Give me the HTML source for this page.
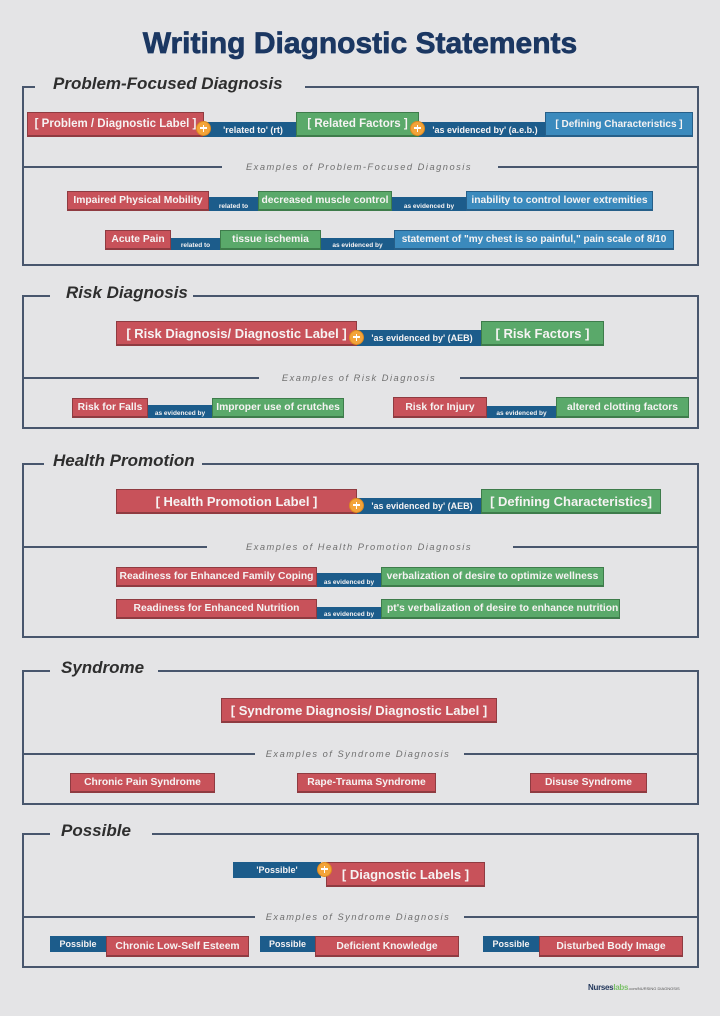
<!DOCTYPE html>
<html>
<head>
<meta charset="utf-8">
<style>
html,body{margin:0;padding:0;}
body{width:720px;height:1016px;background:#e4e4e6;position:relative;overflow:hidden;font-family:"Liberation Sans",Arial,sans-serif;}
.title{position:absolute;left:0;top:26px;width:720px;height:36px;line-height:36px;text-align:center;font-size:30px;font-weight:bold;color:#1b3762;letter-spacing:0px;-webkit-text-stroke:0.7px #1b3762;}
.frame{position:absolute;left:22px;width:677px;box-sizing:border-box;border:2px solid #48566d;border-top:none;}
.ln{position:absolute;height:2px;background:#48566d;}
.st{position:absolute;height:20px;line-height:20px;font-size:17px;font-weight:bold;font-style:italic;color:#2e2e2e;white-space:nowrap;}
.dv{position:absolute;width:400px;text-align:center;font-size:9.3px;font-style:italic;letter-spacing:1.5px;color:#707070;height:12px;line-height:12px;white-space:nowrap;}
.b{position:absolute;box-sizing:border-box;display:flex;align-items:center;justify-content:center;color:#f6f3f3;font-weight:bold;white-space:nowrap;overflow:hidden;font-size:10.3px;}
.r{background:#c8525a;border:1px solid #8f3b41;border-bottom-width:2px;}
.g{background:#5aa96a;border:1px solid #3e7c4b;border-bottom-width:2px;}
.lb{background:#3b8abd;border:1px solid #265f89;border-bottom-width:2px;}
.db{background:#1c5c8b;font-size:6.5px;font-weight:bold;align-items:flex-end;padding-bottom:1px;}
.db.big{font-size:9px;font-weight:bold;align-items:center;padding-bottom:0;}
.t12{font-size:11.5px;}
.t13{font-size:13px;}
.pl{position:absolute;width:15px;height:15px;border-radius:50%;background:#f3a43a;box-sizing:border-box;border:1.5px solid #de8a1e;z-index:5;}
.pl:before{content:"";position:absolute;left:5.5px;top:2.5px;width:1.8px;height:7px;background:#fff;}
.pl:after{content:"";position:absolute;left:3px;top:5.1px;width:7px;height:1.8px;background:#fff;}
.wm{position:absolute;left:588px;top:983px;font-size:8px;font-weight:bold;color:#23385c;white-space:nowrap;letter-spacing:-0.3px;}
.wm span.l{color:#7cc06a;}
.wm span.s{font-size:4px;color:#555;font-weight:normal;letter-spacing:0;}
</style>
</head>
<body>
<div class="title">Writing Diagnostic Statements</div>

<!-- Section 1: Problem-Focused -->
<div class="frame" style="top:86px;height:180px;"></div>
<div class="ln" style="left:22px;top:86px;width:13px;"></div>
<div class="ln" style="left:305px;top:86px;width:394px;"></div>
<div class="st" style="left:53px;top:74px;">Problem-Focused Diagnosis</div>

<div class="b r t12" style="left:27px;top:112px;width:177px;height:25px;">[ Problem / Diagnostic Label ]</div>
<div class="b db big" style="left:203px;top:122px;width:94px;height:15px;padding-left:6px;">'related to' (rt)</div>
<div class="b g t12" style="left:296px;top:112px;width:123px;height:25px;">[ Related Factors ]</div>
<div class="b db big" style="left:419px;top:122px;width:126px;height:15px;padding-left:6px;">'as evidenced by' (a.e.b.)</div>
<div class="b lb" style="left:545px;top:112px;width:148px;height:25px;font-size:10px;">[ Defining Characteristics ]</div>
<div class="pl" style="left:196px;top:121px;"></div>
<div class="pl" style="left:410px;top:121px;"></div>

<div class="ln" style="left:22px;top:166px;width:200px;"></div>
<div class="ln" style="left:498px;top:166px;width:201px;"></div>
<div class="dv" style="left:159px;top:161px;">Examples of Problem-Focused Diagnosis</div>

<div class="b r" style="left:67px;top:191px;width:142px;height:20px;">Impaired Physical Mobility</div>
<div class="b db" style="left:209px;top:197px;width:49px;height:14px;">related to</div>
<div class="b g" style="left:258px;top:191px;width:134px;height:20px;">decreased muscle control</div>
<div class="b db" style="left:392px;top:197px;width:74px;height:14px;">as evidenced by</div>
<div class="b lb" style="left:466px;top:191px;width:187px;height:20px;">inability to control lower extremities</div>

<div class="b r" style="left:105px;top:230px;width:66px;height:20px;">Acute Pain</div>
<div class="b db" style="left:171px;top:238px;width:49px;height:12px;">related to</div>
<div class="b g" style="left:220px;top:230px;width:101px;height:20px;">tissue ischemia</div>
<div class="b db" style="left:321px;top:238px;width:73px;height:12px;">as evidenced by</div>
<div class="b lb" style="left:394px;top:230px;width:280px;height:20px;font-size:10px;">statement of "my chest is so painful," pain scale of 8/10</div>

<!-- Section 2: Risk -->
<div class="frame" style="top:295px;height:134px;"></div>
<div class="ln" style="left:22px;top:295px;width:28px;"></div>
<div class="ln" style="left:193px;top:295px;width:506px;"></div>
<div class="st" style="left:66px;top:283px;">Risk Diagnosis</div>

<div class="b r t13" style="left:116px;top:321px;width:241px;height:25px;">[ Risk Diagnosis/ Diagnostic Label ]</div>
<div class="b db big" style="left:357px;top:330px;width:124px;height:16px;padding-left:6px;">'as evidenced by' (AEB)</div>
<div class="b g t13" style="left:481px;top:321px;width:123px;height:25px;">[ Risk Factors ]</div>
<div class="pl" style="left:349px;top:330px;"></div>

<div class="ln" style="left:22px;top:377px;width:237px;"></div>
<div class="ln" style="left:460px;top:377px;width:239px;"></div>
<div class="dv" style="left:159px;top:372px;">Examples of Risk Diagnosis</div>

<div class="b r" style="left:72px;top:398px;width:76px;height:20px;">Risk for Falls</div>
<div class="b db" style="left:148px;top:405px;width:64px;height:13px;">as evidenced by</div>
<div class="b g" style="left:212px;top:398px;width:132px;height:20px;">Improper use of crutches</div>

<div class="b r" style="left:393px;top:397px;width:94px;height:21px;">Risk for Injury</div>
<div class="b db" style="left:487px;top:406px;width:69px;height:12px;">as evidenced by</div>
<div class="b g" style="left:556px;top:397px;width:133px;height:21px;">altered clotting factors</div>

<!-- Section 3: Health Promotion -->
<div class="frame" style="top:463px;height:175px;"></div>
<div class="ln" style="left:22px;top:463px;width:22px;"></div>
<div class="ln" style="left:202px;top:463px;width:497px;"></div>
<div class="st" style="left:53px;top:451px;">Health Promotion</div>

<div class="b r t13" style="left:116px;top:489px;width:241px;height:25px;">[ Health Promotion Label ]</div>
<div class="b db big" style="left:357px;top:498px;width:124px;height:16px;padding-left:6px;">'as evidenced by' (AEB)</div>
<div class="b g t13" style="left:481px;top:489px;width:180px;height:25px;">[ Defining Characteristics]</div>
<div class="pl" style="left:349px;top:498px;"></div>

<div class="ln" style="left:22px;top:546px;width:185px;"></div>
<div class="ln" style="left:513px;top:546px;width:186px;"></div>
<div class="dv" style="left:159px;top:541px;">Examples of Health Promotion Diagnosis</div>

<div class="b r" style="left:116px;top:567px;width:201px;height:20px;">Readiness for Enhanced Family Coping</div>
<div class="b db" style="left:317px;top:573px;width:64px;height:14px;">as evidenced by</div>
<div class="b g" style="left:381px;top:567px;width:223px;height:20px;">verbalization of desire to optimize wellness</div>

<div class="b r" style="left:116px;top:599px;width:201px;height:20px;">Readiness for Enhanced Nutrition</div>
<div class="b db" style="left:317px;top:607px;width:64px;height:12px;">as evidenced by</div>
<div class="b g" style="left:381px;top:599px;width:239px;height:20px;justify-content:flex-start;padding-left:5px;">pt's verbalization of desire to enhance nutrition</div>

<!-- Section 4: Syndrome -->
<div class="frame" style="top:670px;height:135px;"></div>
<div class="ln" style="left:22px;top:670px;width:28px;"></div>
<div class="ln" style="left:158px;top:670px;width:541px;"></div>
<div class="st" style="left:61px;top:658px;">Syndrome</div>

<div class="b r t13" style="left:221px;top:698px;width:276px;height:25px;">[ Syndrome Diagnosis/ Diagnostic Label ]</div>

<div class="ln" style="left:22px;top:753px;width:233px;"></div>
<div class="ln" style="left:464px;top:753px;width:235px;"></div>
<div class="dv" style="left:158px;top:748px;">Examples of Syndrome Diagnosis</div>

<div class="b r" style="left:70px;top:773px;width:145px;height:20px;">Chronic Pain Syndrome</div>
<div class="b r" style="left:297px;top:773px;width:139px;height:20px;">Rape-Trauma Syndrome</div>
<div class="b r" style="left:530px;top:773px;width:117px;height:20px;">Disuse Syndrome</div>

<!-- Section 5: Possible -->
<div class="frame" style="top:833px;height:135px;"></div>
<div class="ln" style="left:22px;top:833px;width:28px;"></div>
<div class="ln" style="left:152px;top:833px;width:547px;"></div>
<div class="st" style="left:61px;top:821px;">Possible</div>

<div class="b db big" style="left:233px;top:862px;width:88px;height:16px;">'Possible'</div>
<div class="b r t13" style="left:326px;top:862px;width:159px;height:25px;">[ Diagnostic Labels ]</div>
<div class="pl" style="left:317px;top:862px;"></div>

<div class="ln" style="left:22px;top:916px;width:233px;"></div>
<div class="ln" style="left:464px;top:916px;width:235px;"></div>
<div class="dv" style="left:158px;top:911px;">Examples of Syndrome Diagnosis</div>

<div class="b db big" style="left:50px;top:936px;width:56px;height:16px;">Possible</div>
<div class="b r" style="left:106px;top:936px;width:143px;height:21px;">Chronic Low-Self Esteem</div>
<div class="b db big" style="left:260px;top:936px;width:55px;height:16px;">Possible</div>
<div class="b r" style="left:315px;top:936px;width:144px;height:21px;">Deficient Knowledge</div>
<div class="b db big" style="left:483px;top:936px;width:56px;height:16px;">Possible</div>
<div class="b r" style="left:539px;top:936px;width:144px;height:21px;">Disturbed Body Image</div>

<div class="wm">Nurses<span class="l">labs</span><span class="s">.com/NURSING DIAGNOSIS</span></div>
</body>
</html>
